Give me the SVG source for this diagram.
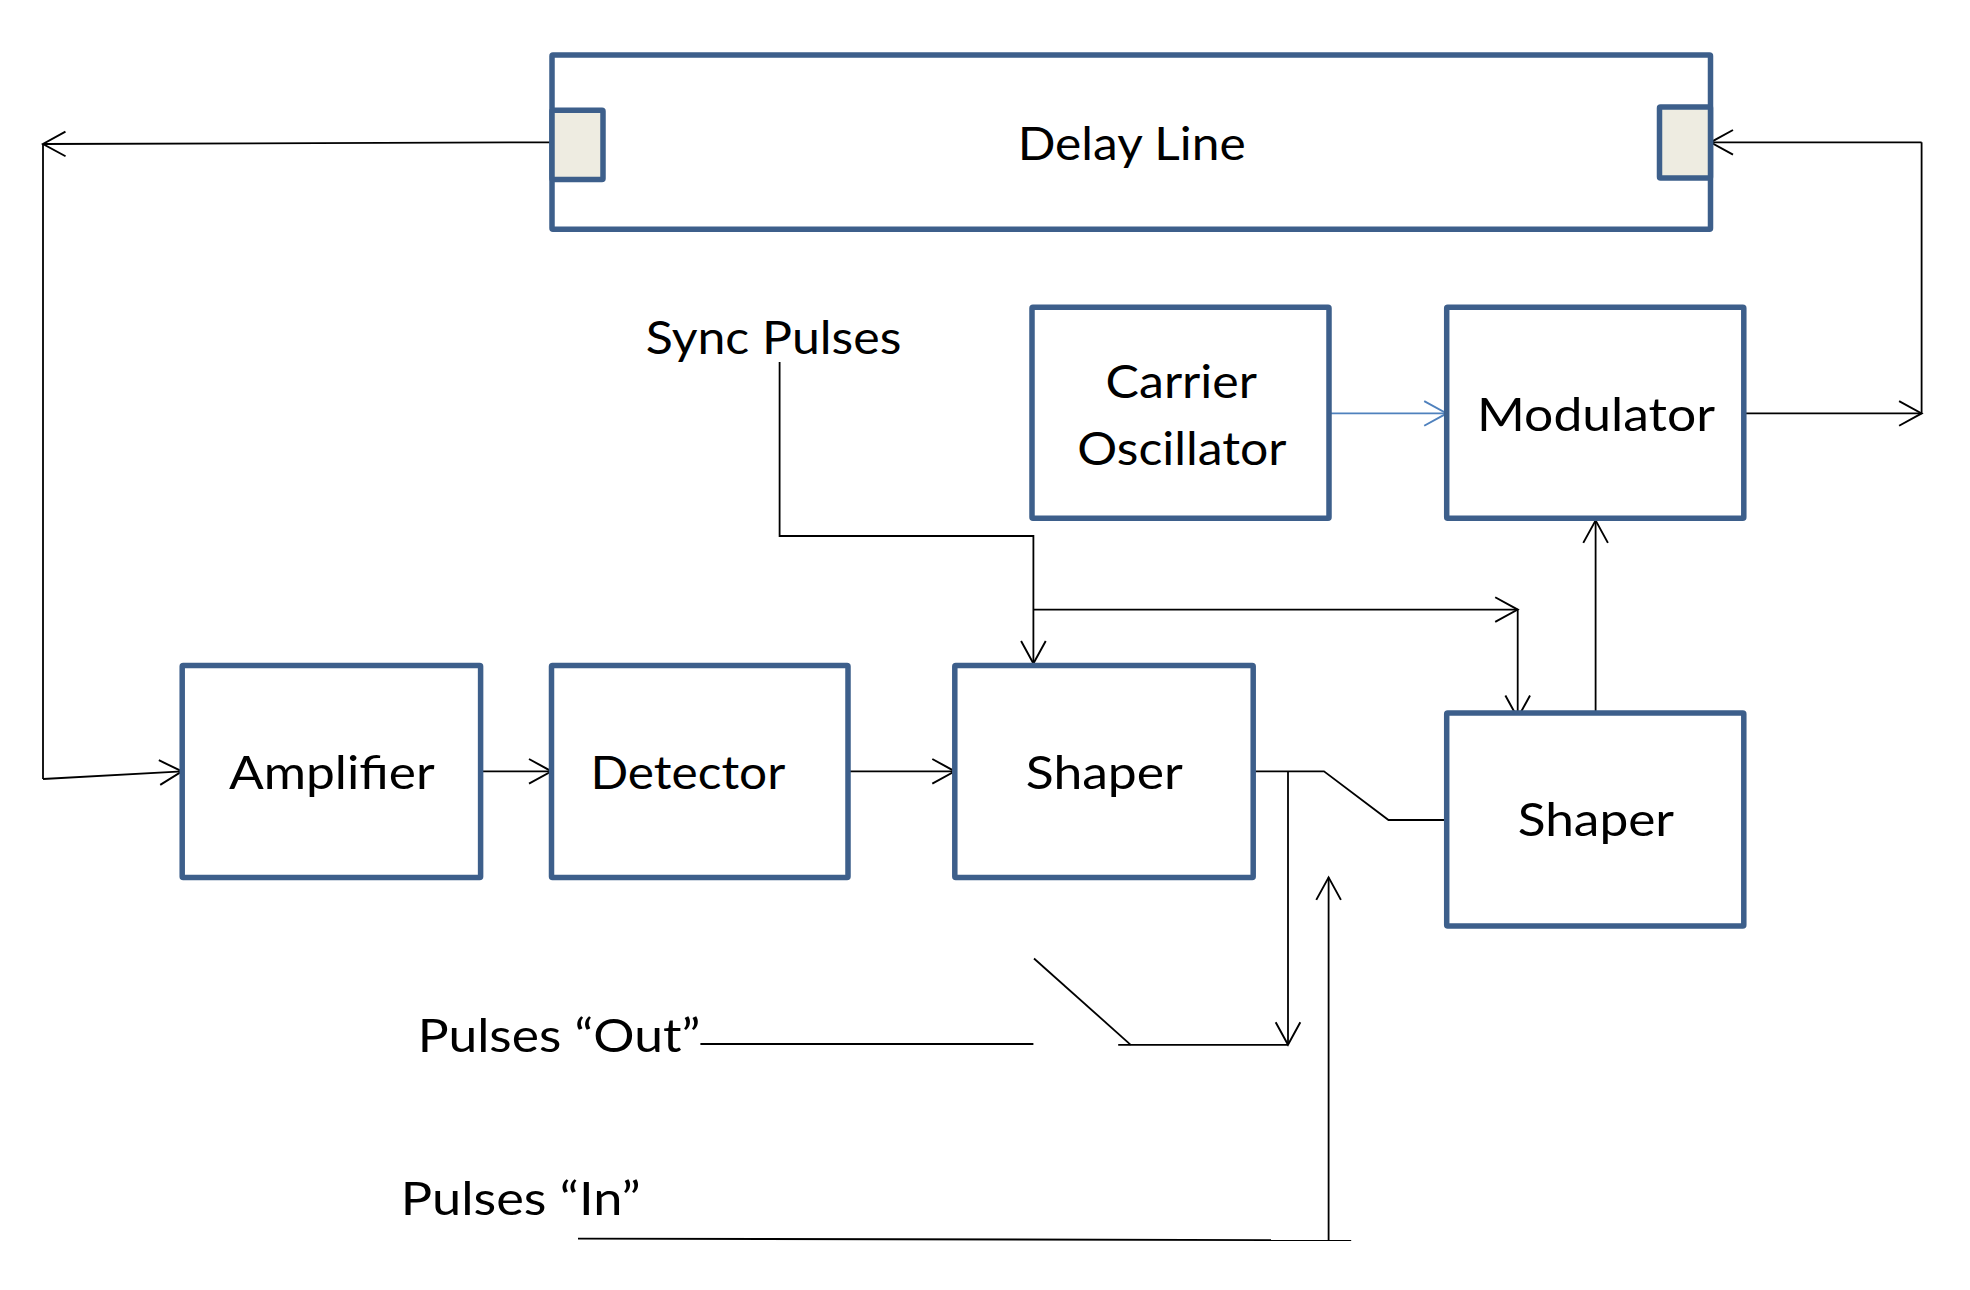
<svg xmlns="http://www.w3.org/2000/svg" width="1970" height="1290" viewBox="0 0 1970 1290">
<defs>
<style>
.box{fill:#ffffff;stroke:#3D5F8B;stroke-width:5.5;stroke-linejoin:round}
.port{fill:#EEECE1;stroke:#3D5F8B;stroke-width:5.5;stroke-linejoin:round}
.lbl{font-family:Lato,"Open Sans","Liberation Sans",sans-serif;font-size:46px;fill:#000000}
.ln{fill:none;stroke:#000000;stroke-width:1.8}
.blue{fill:none;stroke:#4F81BD;stroke-width:1.8}
</style>
<marker id="ah" markerUnits="userSpaceOnUse" markerWidth="30" markerHeight="30" viewBox="-24 -14 28 28" refX="0" refY="0" orient="auto">
<path d="M-21,-11.5 L0,0 L-21,11.5" fill="none" stroke="#000000" stroke-width="1.8"/>
</marker>
<marker id="ahb" markerUnits="userSpaceOnUse" markerWidth="30" markerHeight="30" viewBox="-24 -14 28 28" refX="0" refY="0" orient="auto">
<path d="M-21,-11.5 L0,0 L-21,11.5" fill="none" stroke="#4F81BD" stroke-width="1.8"/>
</marker>
</defs>
<rect width="1970" height="1290" fill="#ffffff"/>

<g id="connectors">
<path class="ln" d="M551,142.3 L43,144" marker-end="url(#ah)"/>
<path class="ln" d="M43,144 L43,779"/>
<path class="ln" d="M43,779 L182,771.3" marker-end="url(#ah)"/>
<path class="ln" d="M1744,413.4 L1921.6,413.4" marker-end="url(#ah)"/>
<path class="ln" d="M1921.6,413.4 L1921.6,142.3"/>
<path class="ln" d="M1921.6,142.3 L1710.5,142.3" marker-end="url(#ah)"/>
<path class="blue" d="M1329,413.4 L1446.7,413.4" marker-end="url(#ahb)"/>
<path class="ln" d="M779.6,362 L779.6,536 L1033.4,536 L1033.4,663.5" marker-end="url(#ah)"/>
<path class="ln" d="M1033.4,609.6 L1517.7,609.6" marker-end="url(#ah)"/>
<path class="ln" d="M1517.7,609.6 L1517.7,718" marker-end="url(#ah)"/>
<path class="ln" d="M1595.6,713 L1595.6,520.4" marker-end="url(#ah)"/>
<path class="ln" d="M480.6,771.3 L551.5,771.3" marker-end="url(#ah)"/>
<path class="ln" d="M848,771.3 L954.8,771.3" marker-end="url(#ah)"/>
<path class="ln" d="M1253,771.3 L1324,771.3 L1388.5,820 L1447,820"/>
<path class="ln" d="M1288,771.3 L1288,1044.8" marker-end="url(#ah)"/>
<path class="ln" d="M1118.2,1044.8 L1288,1044.8"/>
<path class="ln" d="M1034,958.5 L1130.7,1044.8"/>
<path class="ln" d="M700.4,1044 L1033.4,1044"/>
<path class="ln" d="M578,1238.6 L1351.2,1240.2"/>
<path class="ln" d="M1328.6,1240.2 L1328.6,877.4" marker-end="url(#ah)"/>
</g>

<g id="delay-line">
<rect class="box" x="552" y="54.9" width="1158.5" height="174.4" rx="1"/>
<rect class="port" x="552" y="110.2" width="51" height="69.2" rx="1"/>
<rect class="port" x="1659.5" y="107" width="51" height="71" rx="1"/>
<text class="lbl" x="1017.7" y="160.4" textLength="228" lengthAdjust="spacingAndGlyphs">Delay Line</text>
</g>

<g id="sync-pulses">
<text class="lbl" x="645.8" y="353.8" textLength="255.6" lengthAdjust="spacingAndGlyphs">Sync Pulses</text>
</g>

<g id="carrier-oscillator">
<rect class="box" x="1032" y="307.3" width="297" height="211" rx="1"/>
<text class="lbl" x="1105.6" y="398.2" textLength="151.4" lengthAdjust="spacingAndGlyphs">Carrier</text>
<text class="lbl" x="1077.3" y="464.8" textLength="209.2" lengthAdjust="spacingAndGlyphs">Oscillator</text>
</g>

<g id="modulator">
<rect class="box" x="1446.7" y="307.3" width="297.1" height="211" rx="1"/>
<text class="lbl" x="1477" y="431.1" textLength="238" lengthAdjust="spacingAndGlyphs">Modulator</text>
</g>

<g id="amplifier">
<rect class="box" x="182.2" y="665.6" width="298.4" height="211.8" rx="1"/>
<text class="lbl" x="229" y="789" textLength="205.7" lengthAdjust="spacingAndGlyphs">Amplifier</text>
</g>

<g id="detector">
<rect class="box" x="551.5" y="665.6" width="296.5" height="211.8" rx="1"/>
<text class="lbl" x="590.5" y="789" textLength="194.7" lengthAdjust="spacingAndGlyphs">Detector</text>
</g>

<g id="shaper-1">
<rect class="box" x="954.8" y="665.6" width="298.4" height="211.8" rx="1"/>
<text class="lbl" x="1025.8" y="789" textLength="157.1" lengthAdjust="spacingAndGlyphs">Shaper</text>
</g>

<g id="shaper-2">
<rect class="box" x="1446.7" y="712.9" width="297.1" height="213.1" rx="1"/>
<text class="lbl" x="1517.7" y="836.3" textLength="156.4" lengthAdjust="spacingAndGlyphs">Shaper</text>
</g>

<g id="pulses-out">
<text class="lbl" x="417.7" y="1052.2" textLength="282.7" lengthAdjust="spacingAndGlyphs">Pulses “Out”</text>
</g>

<g id="pulses-in">
<text class="lbl" x="400.8" y="1214.7" textLength="239.9" lengthAdjust="spacingAndGlyphs">Pulses “In”</text>
</g>
</svg>
